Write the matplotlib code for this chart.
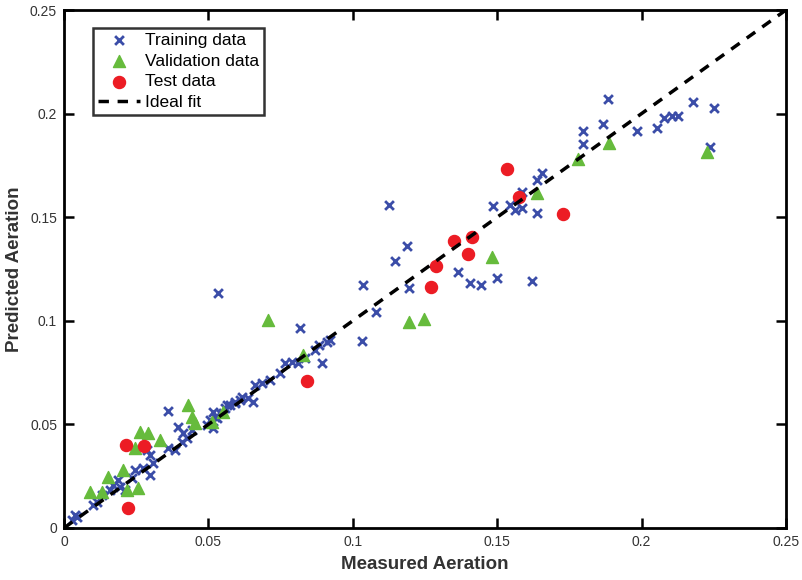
import numpy as np
import matplotlib
matplotlib.use('Agg')
import matplotlib.pyplot as plt

plt.rcParams['font.family'] = ['Liberation Sans', 'DejaVu Sans']

# Training data (measured, predicted)
train_x = [0.1884, 0.1866, 0.1797, 0.1797, 0.1984, 0.2053, 0.2078, 0.2105, 0.2126,
           0.2180, 0.2250, 0.2237, 0.1655, 0.1638, 0.1586, 0.1544, 0.1562, 0.1586,
           0.1638, 0.1485, 0.1125, 0.1188, 0.1146, 0.1035, 0.1195, 0.1080, 0.1032,
           0.1364, 0.1406, 0.1444, 0.1500, 0.1620, 0.0533, 0.0817, 0.0920, 0.0883,
           0.0910, 0.0893, 0.0869, 0.0835, 0.0810, 0.0790, 0.0765, 0.0748, 0.0713,
           0.0685, 0.0661, 0.0637, 0.0609, 0.0592, 0.0654, 0.0616, 0.0575, 0.0557,
           0.0516, 0.0540, 0.0523, 0.0505, 0.0360, 0.0395, 0.0412, 0.0426, 0.0409,
           0.0443, 0.0384, 0.0360, 0.0495, 0.0516, 0.0530, 0.0550, 0.0564, 0.0592,
           0.0287, 0.0298, 0.0308, 0.0298, 0.0274, 0.0235, 0.0246, 0.0187, 0.0170,
           0.0194, 0.0159, 0.0132, 0.0114, 0.0100, 0.0038, 0.0028, 0.0045, 0.0211]
train_y = [0.2070, 0.1950, 0.1916, 0.1853, 0.1916, 0.1930, 0.1980, 0.1990, 0.1990,
           0.2056, 0.2027, 0.1840, 0.1713, 0.1680, 0.1622, 0.1560, 0.1535, 0.1544,
           0.1520, 0.1554, 0.1559, 0.1361, 0.1289, 0.1173, 0.1158, 0.1043, 0.0903,
           0.1236, 0.1182, 0.1173, 0.1207, 0.1192, 0.1134, 0.0965, 0.0907, 0.0883,
           0.0898, 0.0796, 0.0859, 0.0820, 0.0796, 0.0800, 0.0796, 0.0748, 0.0714,
           0.0700, 0.0690, 0.0627, 0.0618, 0.0603, 0.0608, 0.0632, 0.0594, 0.0580,
           0.0560, 0.0555, 0.0536, 0.0520, 0.0565, 0.0487, 0.0458, 0.0434, 0.0415,
           0.0473, 0.0376, 0.0386, 0.0497, 0.0483, 0.0531, 0.0555, 0.0594, 0.0608,
           0.0376, 0.0352, 0.0314, 0.0256, 0.0290, 0.0241, 0.0280, 0.0232, 0.0208,
           0.0198, 0.0183, 0.0159, 0.0125, 0.0111, 0.0063, 0.0039, 0.0053, 0.0183]

# Validation data
val_x = [0.0090, 0.0132, 0.0152, 0.0204, 0.0218, 0.0256, 0.0246, 0.0263, 0.0291,
         0.0332, 0.0429, 0.0443, 0.0454, 0.0512, 0.0550, 0.0706, 0.0828, 0.1195,
         0.1247, 0.1482, 0.1638, 0.1780, 0.1887, 0.2226]
val_y = [0.0174, 0.0174, 0.0246, 0.0280, 0.0183, 0.0193, 0.0386, 0.0463, 0.0458,
         0.0425, 0.0594, 0.0536, 0.0507, 0.0512, 0.0560, 0.1004, 0.0835, 0.0994,
         0.1009, 0.1308, 0.1617, 0.1780, 0.1858, 0.1815]

# Test data
test_x = [0.0215, 0.0277, 0.0222, 0.0841, 0.1271, 0.1288, 0.1350, 0.1399, 0.1413,
          0.1534, 0.1575, 0.1728]
test_y = [0.0401, 0.0396, 0.0097, 0.0710, 0.1163, 0.1264, 0.1385, 0.1322, 0.1404,
          0.1733, 0.1598, 0.1515]

ticks = [0, 0.05, 0.1, 0.15, 0.2, 0.25]
tick_labels = ['0', '0.05', '0.1', '0.15', '0.2', '0.25']

fig = plt.figure(figsize=(8.03, 5.80), dpi=100)
ax = fig.add_axes([0.0797, 0.0897, 0.899, 0.893])

ax.scatter(train_x, train_y, marker='x', s=40, linewidths=2.0,
           color='#3b4da8', label='Training data', zorder=3)
ax.scatter(val_x, val_y, marker='^', s=75, color='#66bb3c',
           label='Validation data', zorder=3)
ax.scatter(test_x, test_y, marker='o', s=75, color='#ec1c24',
           label='Test data', zorder=3)
ax.plot([0, 0.25], [0, 0.25], 'k--', lw=2.5, dashes=(3, 2.5),
        label='Ideal fit', zorder=4)

ax.set_xlim(0, 0.25)
ax.set_ylim(0, 0.25)
ax.set_xticks(ticks)
ax.set_xticklabels(tick_labels)
ax.set_yticks(ticks)
ax.set_yticklabels(tick_labels)
ax.tick_params(direction='in', top=True, right=True, length=7, width=1.8,
               labelsize=10, colors='black', pad=5)
ax.tick_params(labelcolor='#333333')
for s in ax.spines.values():
    s.set_linewidth(2)

ax.set_xlabel('Measured Aeration', fontsize=13.5, fontweight='bold', labelpad=5,
              color='#333333')
ax.set_ylabel('Predicted Aeration', fontsize=13.5, fontweight='bold', labelpad=5,
              color='#333333')

leg = ax.legend(loc='upper left', bbox_to_anchor=(0.04, 0.966), fontsize=12.5,
                frameon=True, fancybox=False, edgecolor='black',
                handlelength=2.4, handletextpad=0.3, borderpad=0.3,
                labelspacing=0.32, borderaxespad=0)
leg.get_frame().set_linewidth(1.8)

fig.savefig('out.png', dpi=100)
